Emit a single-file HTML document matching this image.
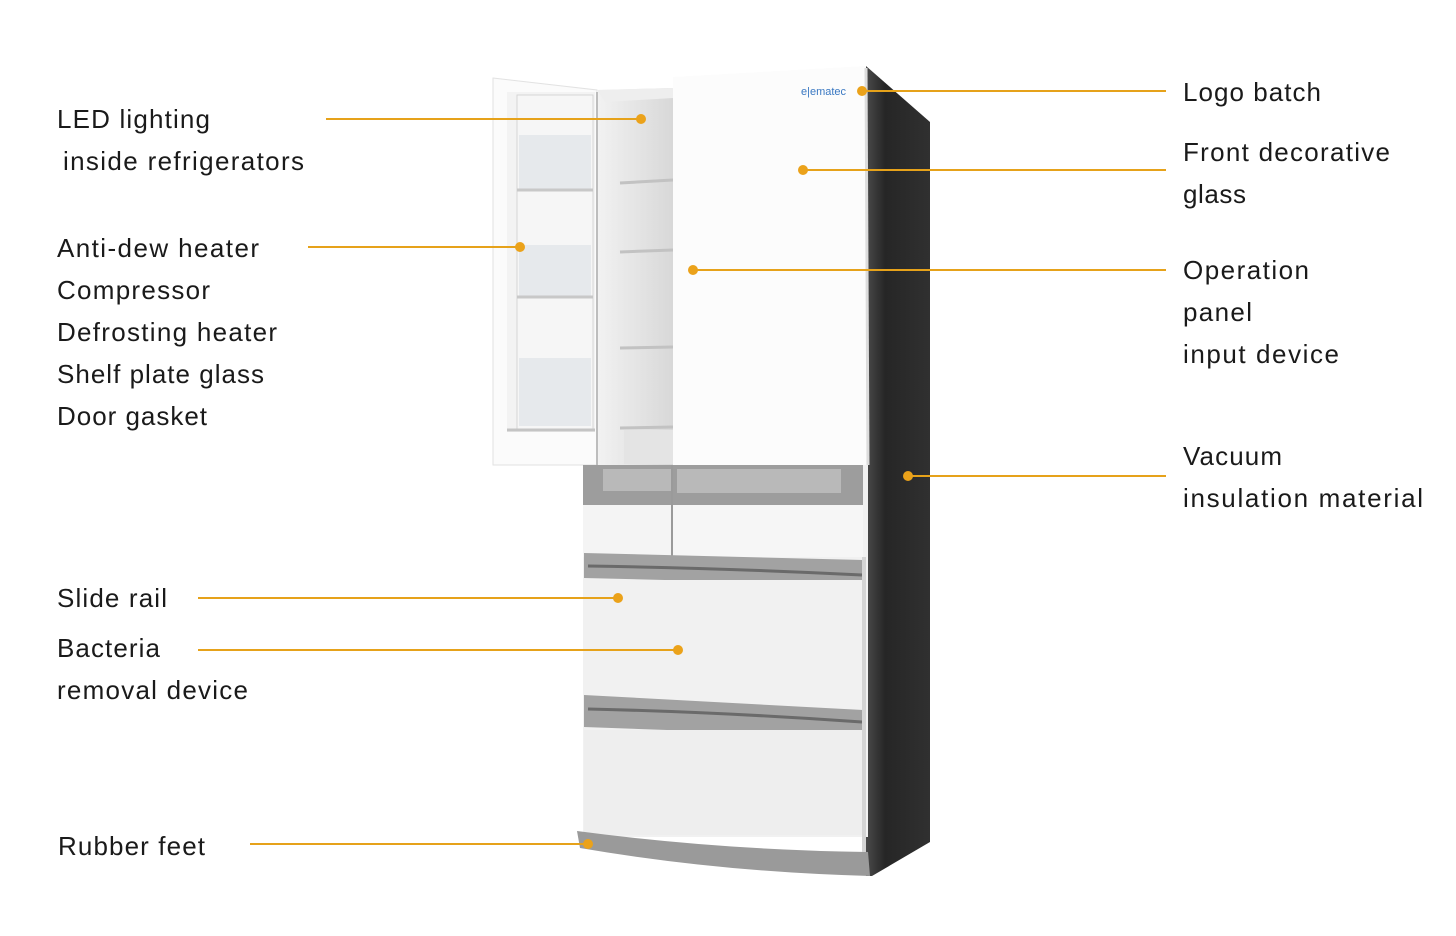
<!DOCTYPE html>
<html><head><meta charset="utf-8"><style>
html,body{margin:0;padding:0;background:#fff;}
svg{display:block;}
text{font-family:"Liberation Sans","Noto Sans CJK JP",sans-serif;font-size:26px;fill:#1a1a1a;}
</style></head><body>
<svg width="1456" height="936" viewBox="0 0 1456 936" xmlns="http://www.w3.org/2000/svg">
<defs>
<linearGradient id="side" x1="0" x2="1" y1="0" y2="0"><stop offset="0" stop-color="#4a4a4a"/><stop offset="0.3" stop-color="#262626"/><stop offset="1" stop-color="#303030"/></linearGradient>
<linearGradient id="inner" x1="0" x2="1"><stop offset="0" stop-color="#f2f2f2"/><stop offset="1" stop-color="#d8d8d8"/></linearGradient>
</defs>
<polygon points="866,66 930,122 930,842 872,876 866,876" fill="url(#side)"/>
<polygon points="493,78 597,90 597,465 493,465" fill="#fbfbfb" stroke="#e2e2e2"/>
<rect x="507" y="92" width="88" height="340" fill="#f3f3f3"/>
<rect x="517" y="95" width="76" height="334" fill="#f6f6f6" stroke="#d5d5d5"/>
<rect x="519" y="135" width="72" height="55" fill="#e6e9ec"/>
<rect x="519" y="245" width="72" height="52" fill="#e6e9ec"/>
<rect x="519" y="358" width="72" height="68" fill="#e6e9ec"/>
<line x1="517" y1="190" x2="593" y2="190" stroke="#c8c8c8" stroke-width="3"/>
<line x1="517" y1="297" x2="593" y2="297" stroke="#c8c8c8" stroke-width="3"/>
<line x1="507" y1="430" x2="595" y2="430" stroke="#c4c4c4" stroke-width="3"/>
<polygon points="597,90 673,88 673,465 597,465" fill="url(#inner)"/>
<polygon points="597,90 673,88 673,98 605,102" fill="#eeeeee"/>
<line x1="597" y1="92" x2="597" y2="465" stroke="#bdbdbd" stroke-width="2"/>
<g stroke="#c2c2c2" stroke-width="3"><line x1="620" y1="183" x2="673" y2="180"/><line x1="620" y1="252" x2="673" y2="250"/><line x1="620" y1="348" x2="673" y2="347"/><line x1="620" y1="428" x2="673" y2="427"/></g>
<rect x="624" y="430" width="49" height="34" fill="#e4e4e4"/>
<polygon points="673,77 866,66 868,465 673,465" fill="#fcfcfc"/>
<line x1="866" y1="68" x2="868" y2="465" stroke="#dcdcdc" stroke-width="3"/>
<text x="801" y="95" style="font-size:11px;fill:#3a78c2">e|ematec</text>
<rect x="583" y="465" width="285" height="372" fill="#f1f1f1"/>
<rect x="583" y="465" width="280" height="40" fill="#9d9d9d"/>
<rect x="603" y="469" width="68" height="22" fill="#b9b9b9"/>
<rect x="677" y="469" width="164" height="24" fill="#b9b9b9"/>
<rect x="583" y="505" width="88" height="52" fill="#f4f4f4"/>
<rect x="673" y="505" width="190" height="52" fill="#f6f6f6"/>
<line x1="672" y1="465" x2="672" y2="557" stroke="#9a9a9a" stroke-width="2"/>
<path d="M584,553 L863,560 L863,585 L584,578 Z" fill="#a2a2a2"/>
<path d="M588,566 Q720,568 862,575" stroke="#6a6a6a" stroke-width="3" fill="none"/>
<rect x="584" y="580" width="280" height="115" fill="#f1f1f1"/>
<path d="M584,695 L863,710 L863,737 L584,727 Z" fill="#a2a2a2"/>
<path d="M588,709 Q720,712 862,722" stroke="#6a6a6a" stroke-width="3" fill="none"/>
<rect x="584" y="730" width="280" height="105" fill="#eeeeee"/>
<path d="M577,831 Q720,850 868,852 L870,876 Q720,872 580,848 Z" fill="#9a9a9a"/>
<line x1="864" y1="557" x2="864" y2="852" stroke="#d4d4d4" stroke-width="4"/>
<g stroke="#e6a21a" stroke-width="2">
<line x1="326" y1="119" x2="641" y2="119"/>
<line x1="308" y1="247" x2="520" y2="247"/>
<line x1="862" y1="91" x2="1166" y2="91"/>
<line x1="803" y1="170" x2="1166" y2="170"/>
<line x1="693" y1="270" x2="1166" y2="270"/>
<line x1="908" y1="476" x2="1166" y2="476"/>
<line x1="198" y1="598" x2="618" y2="598"/>
<line x1="198" y1="650" x2="678" y2="650"/>
<line x1="250" y1="844" x2="588" y2="844"/>
</g>
<g fill="#eba21a">
<circle cx="641" cy="119" r="5"/><circle cx="520" cy="247" r="5"/><circle cx="862" cy="91" r="5"/>
<circle cx="803" cy="170" r="5"/><circle cx="693" cy="270" r="5"/><circle cx="908" cy="476" r="5"/>
<circle cx="618" cy="598" r="5"/><circle cx="678" cy="650" r="5"/><circle cx="588" cy="844" r="5"/>
</g>
<text x="57" y="128" textLength="153">LED lighting</text>
<text x="63" y="170" textLength="241">inside refrigerators</text>
<text x="57" y="257" textLength="202">Anti-dew heater</text>
<text x="57" y="299" textLength="153">Compressor</text>
<text x="57" y="341" textLength="220">Defrosting heater</text>
<text x="57" y="383" textLength="207">Shelf plate glass</text>
<text x="57" y="425" textLength="150">Door gasket</text>
<text x="57" y="607" textLength="110">Slide rail</text>
<text x="57" y="657" textLength="103">Bacteria</text>
<text x="57" y="699" textLength="191">removal device</text>
<text x="58" y="855" textLength="147">Rubber feet</text>
<text x="1183" y="101" textLength="138">Logo batch</text>
<text x="1183" y="161" textLength="207">Front decorative</text>
<text x="1183" y="203" textLength="63">glass</text>
<text x="1183" y="279" textLength="126">Operation</text>
<text x="1183" y="321" textLength="69">panel</text>
<text x="1183" y="363" textLength="156">input device</text>
<text x="1183" y="465" textLength="99">Vacuum</text>
<text x="1183" y="507" textLength="240">insulation material</text>
</svg>
</body></html>
